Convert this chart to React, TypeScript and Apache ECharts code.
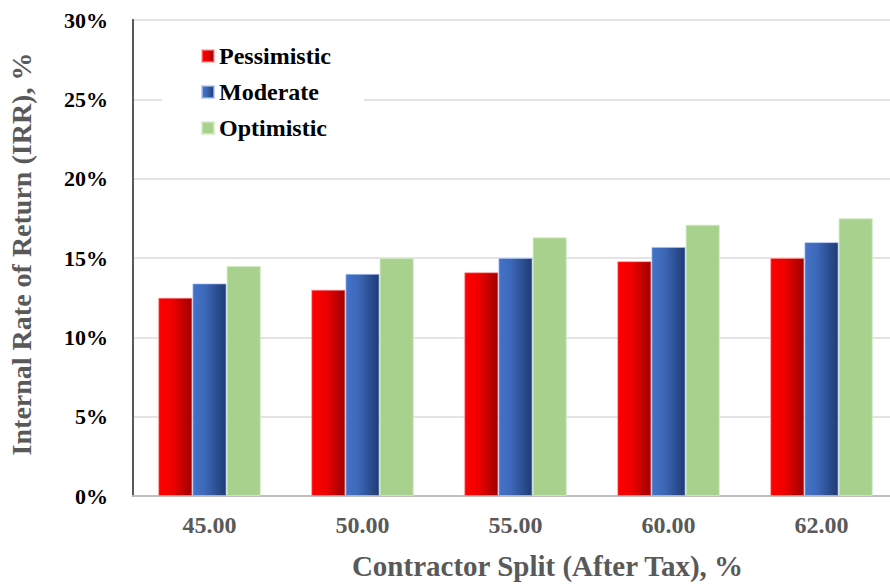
import React, { useEffect, useRef } from "react";
import * as echarts from "echarts";

const categories = ["45.00", "50.00", "55.00", "60.00", "62.00"];
const pessimistic = [12.5, 13.0, 14.1, 14.8, 15.0];
const moderate = [13.4, 14.0, 15.0, 15.7, 16.0];
const optimistic = [14.5, 15.0, 16.3, 17.1, 17.5];
const seriesNames = ["Pessimistic", "Moderate", "Optimistic"];

const SERIF = '"Liberation Serif", "Times New Roman", serif';

const redFill = new echarts.graphic.LinearGradient(0, 0, 1, 0, [
  { offset: 0, color: "#FF0000" },
  { offset: 0.4, color: "#F00000" },
  { offset: 1, color: "#A00000" },
]);
const blueFill = new echarts.graphic.LinearGradient(0, 0, 1, 0, [
  { offset: 0, color: "#4472C8" },
  { offset: 0.35, color: "#3D69BA" },
  { offset: 1, color: "#1F3B74" },
]);
const greenFill = "#A9D18E";

export default function App() {
  const ref = useRef<HTMLDivElement>(null);

  useEffect(() => {
    if (!ref.current) return;
    const chart = echarts.init(ref.current, undefined, { renderer: "svg" });
    chart.setOption({
      animation: false,
      backgroundColor: "#FFFFFF",
      grid: {
        left: 133,
        top: 20,
        right: 0,
        bottom: 88,
        show: true,
        borderColor: "#595959",
        borderWidth: 2,
        containLabel: false,
        outerBoundsMode: "none",
      },
      legend: {
        orient: "vertical",
        left: 162,
        top: 30,
        padding: [14, 33, 14, 39],
        backgroundColor: "#FFFFFF",
        itemWidth: 12,
        itemHeight: 12,
        itemGap: 12,
        icon: "rect",
        data: seriesNames,
        textStyle: {
          fontFamily: SERIF,
          fontWeight: "bold",
          fontSize: 24,
          color: "#000000",
        },
      },
      xAxis: {
        type: "category",
        data: categories,
        name: "Contractor Split (After Tax), %",
        nameLocation: "middle",
        nameGap: 55,
        nameTextStyle: {
          fontFamily: SERIF,
          fontWeight: "bold",
          fontSize: 29,
          color: "#595959",
          padding: [0, 0, 0, 64],
        },
        axisLine: { show: true, lineStyle: { color: "#BFBFBF", width: 2 } },
        axisTick: { show: false },
        axisLabel: {
          margin: 17,
          fontFamily: SERIF,
          fontWeight: "bold",
          fontSize: 24,
          color: "#595959",
        },
      },
      yAxis: {
        type: "value",
        min: 0,
        max: 30,
        interval: 5,
        name: "Internal Rate of Return (IRR), %",
        nameLocation: "middle",
        nameGap: 90,
        nameTextStyle: {
          fontFamily: SERIF,
          fontWeight: "bold",
          fontSize: 28,
          color: "#595959",
          padding: [0, 0, 8, 8],
        },
        axisLine: { show: true, lineStyle: { color: "#595959", width: 2 } },
        axisTick: { show: false },
        splitLine: { lineStyle: { color: "#E4E4E4", width: 2 } },
        axisLabel: {
          margin: 25,
          formatter: "{value}%",
          fontFamily: SERIF,
          fontWeight: "bold",
          fontSize: 22,
          color: "#000000",
        },
      },
      series: [
        {
          name: seriesNames[0],
          type: "bar",
          data: pessimistic,
          barGap: "0%",
          barCategoryGap: "33%",
          itemStyle: { color: redFill, borderColor: "rgba(255,150,150,0.6)", borderWidth: 1 },
        },
        {
          name: seriesNames[1],
          type: "bar",
          data: moderate,
          barGap: "0%",
          barCategoryGap: "33%",
          itemStyle: { color: blueFill, borderColor: "rgba(170,195,240,0.7)", borderWidth: 1 },
        },
        {
          name: seriesNames[2],
          type: "bar",
          data: optimistic,
          barGap: "0%",
          barCategoryGap: "33%",
          itemStyle: { color: greenFill, borderColor: "rgba(210,235,195,0.8)", borderWidth: 1 },
        },
      ],
    });
    return () => chart.dispose();
  }, []);

  // The plot extends a few pixels past the right edge of the window, so the
  // chart's right border stays out of view.
  return (
    <div
      ref={ref}
      style={{ position: "fixed", left: 0, top: 0, width: 898, height: 584 }}
    />
  );
}
